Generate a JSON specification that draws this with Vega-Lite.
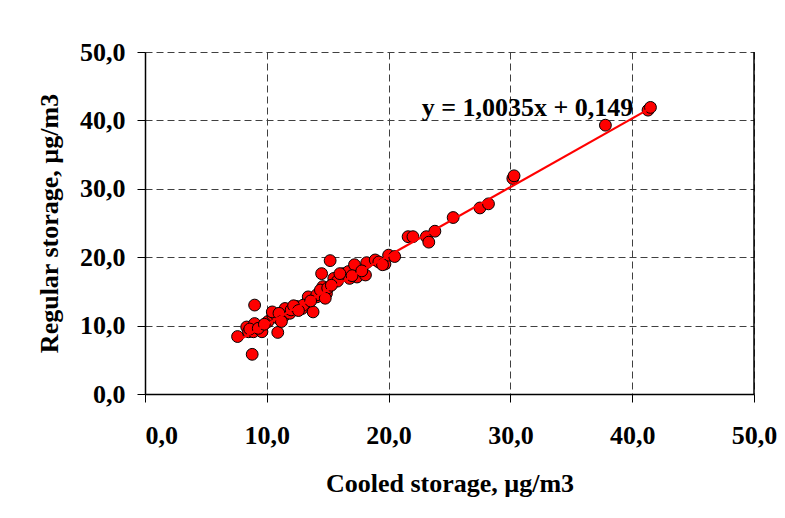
{
  "$schema": "https://vega.github.io/schema/vega-lite/v6.json",
  "width": 609,
  "height": 342,
  "autosize": "none",
  "padding": {"left": 145, "top": 52, "right": 31, "bottom": 124},
  "background": "white",
  "config": {
    "view": {"stroke": null},
    "font": "Liberation Serif",
    "axis": {
      "labelFont": "Liberation Serif",
      "labelFontWeight": "bold",
      "labelFontSize": 26,
      "labelColor": "black",
      "titleFont": "Liberation Serif",
      "titleFontWeight": "bold",
      "titleFontSize": 26,
      "titleColor": "black",
      "domainColor": "black",
      "domainWidth": 1.5,
      "tickColor": "black",
      "tickSize": 8,
      "tickWidth": 1,
      "gridColor": "#404040",
      "gridDash": [7, 4],
      "gridWidth": 1,
      "gridOpacity": 1
    }
  },
  "datasets": {
    "points": [
      {"cooled": 7.6, "regular": 8.4},
      {"cooled": 8.8, "regular": 5.8},
      {"cooled": 9.0, "regular": 13.0},
      {"cooled": 8.35, "regular": 9.8},
      {"cooled": 9.0, "regular": 10.3},
      {"cooled": 8.5, "regular": 9.1},
      {"cooled": 8.9, "regular": 9.1},
      {"cooled": 9.6, "regular": 9.1},
      {"cooled": 10.9, "regular": 9.0},
      {"cooled": 10.1, "regular": 10.6},
      {"cooled": 10.5, "regular": 11.5},
      {"cooled": 10.9, "regular": 11.1},
      {"cooled": 11.35, "regular": 11.3},
      {"cooled": 11.9, "regular": 11.8},
      {"cooled": 12.45, "regular": 12.8},
      {"cooled": 12.9, "regular": 12.5},
      {"cooled": 13.3, "regular": 13.3},
      {"cooled": 13.8, "regular": 12.0},
      {"cooled": 14.1, "regular": 14.2},
      {"cooled": 13.4, "regular": 14.2},
      {"cooled": 10.45, "regular": 12.0},
      {"cooled": 11.5, "regular": 12.5},
      {"cooled": 15.2, "regular": 19.5},
      {"cooled": 14.5, "regular": 17.6},
      {"cooled": 15.5, "regular": 16.9},
      {"cooled": 14.6, "regular": 15.7},
      {"cooled": 14.9, "regular": 14.7},
      {"cooled": 14.1, "regular": 14.5},
      {"cooled": 13.0, "regular": 13.0},
      {"cooled": 16.3, "regular": 17.6},
      {"cooled": 16.7, "regular": 17.9},
      {"cooled": 17.2, "regular": 18.9},
      {"cooled": 17.4, "regular": 17.1},
      {"cooled": 18.1, "regular": 17.4},
      {"cooled": 18.2, "regular": 19.2},
      {"cooled": 18.9, "regular": 19.6},
      {"cooled": 19.7, "regular": 19.0},
      {"cooled": 20.0, "regular": 20.3},
      {"cooled": 20.5, "regular": 20.1},
      {"cooled": 16.8, "regular": 16.9},
      {"cooled": 21.6, "regular": 23.0},
      {"cooled": 22.0, "regular": 23.0},
      {"cooled": 23.1, "regular": 23.0},
      {"cooled": 23.8, "regular": 23.8},
      {"cooled": 23.3, "regular": 22.2},
      {"cooled": 25.3, "regular": 25.8},
      {"cooled": 27.5, "regular": 27.2},
      {"cooled": 28.2, "regular": 27.8},
      {"cooled": 30.2, "regular": 31.5},
      {"cooled": 30.3, "regular": 31.9},
      {"cooled": 37.8, "regular": 39.3},
      {"cooled": 41.3, "regular": 41.5},
      {"cooled": 41.5, "regular": 41.9},
      {"cooled": 8.6, "regular": 9.5},
      {"cooled": 9.3, "regular": 9.6},
      {"cooled": 9.8, "regular": 10.2},
      {"cooled": 11.0, "regular": 11.8},
      {"cooled": 12.0, "regular": 12.3},
      {"cooled": 12.2, "regular": 12.9},
      {"cooled": 13.6, "regular": 13.6},
      {"cooled": 14.4, "regular": 15.2},
      {"cooled": 15.0, "regular": 15.5},
      {"cooled": 15.8, "regular": 16.5},
      {"cooled": 16.0, "regular": 17.6},
      {"cooled": 17.0, "regular": 17.3},
      {"cooled": 17.8, "regular": 18.0},
      {"cooled": 19.2, "regular": 19.3},
      {"cooled": 19.5, "regular": 18.9},
      {"cooled": 14.8, "regular": 14.0},
      {"cooled": 15.3, "regular": 15.9},
      {"cooled": 11.2, "regular": 10.6},
      {"cooled": 12.6, "regular": 12.2}
    ],
    "trend": [
      {"cooled": 7.6, "regular": 7.78},
      {"cooled": 41.5, "regular": 41.79}
    ],
    "equation": [
      {"label": "y = 1,0035x + 0,149"}
    ]
  },
  "layer": [
    {
      "data": {"name": "points"},
      "mark": {"type": "point", "filled": true, "shape": "circle", "size": 140, "fill": "#FF0000", "stroke": "black", "strokeWidth": 1, "opacity": 1},
      "encoding": {
        "x": {
          "field": "cooled", "type": "quantitative",
          "scale": {"domain": [0, 50], "nice": false, "zero": false},
          "axis": {
            "title": "Cooled storage, µg/m3",
            "values": [0, 10, 20, 30, 40, 50],
            "labelExpr": "replace(format(datum.value, '.1f'), '.', ',')",
            "labelAlign": {"condition": {"test": "datum.value == 0", "value": "left"}, "value": "center"},
            "labelPadding": 20,
            "titlePadding": 22,
            "grid": true
          }
        },
        "y": {
          "field": "regular", "type": "quantitative",
          "scale": {"domain": [0, 50], "nice": false, "zero": false},
          "axis": {
            "title": "Regular storage, µg/m3",
            "values": [0, 10, 20, 30, 40, 50],
            "labelExpr": "replace(format(datum.value, '.1f'), '.', ',')",
            "labelPadding": 12,
            "titlePadding": 17,
            "grid": true
          }
        }
      }
    },
    {
      "data": {"name": "trend"},
      "mark": {"type": "line", "color": "#FF0000", "strokeWidth": 2.2},
      "encoding": {
        "x": {"field": "cooled", "type": "quantitative"},
        "y": {"field": "regular", "type": "quantitative"}
      }
    },
    {
      "data": {"values": [{"v": 50}]},
      "mark": {"type": "rule", "color": "black", "strokeWidth": 1.5},
      "encoding": {
        "x": {"field": "v", "type": "quantitative"}
      }
    },
    {
      "data": {"name": "equation"},
      "mark": {"type": "text", "font": "Liberation Serif", "fontWeight": "bold", "fontSize": 26, "color": "black", "align": "center", "baseline": "middle"},
      "encoding": {
        "x": {"datum": 31.4, "type": "quantitative"},
        "y": {"datum": 41.8, "type": "quantitative"},
        "text": {"field": "label"}
      }
    }
  ]
}
